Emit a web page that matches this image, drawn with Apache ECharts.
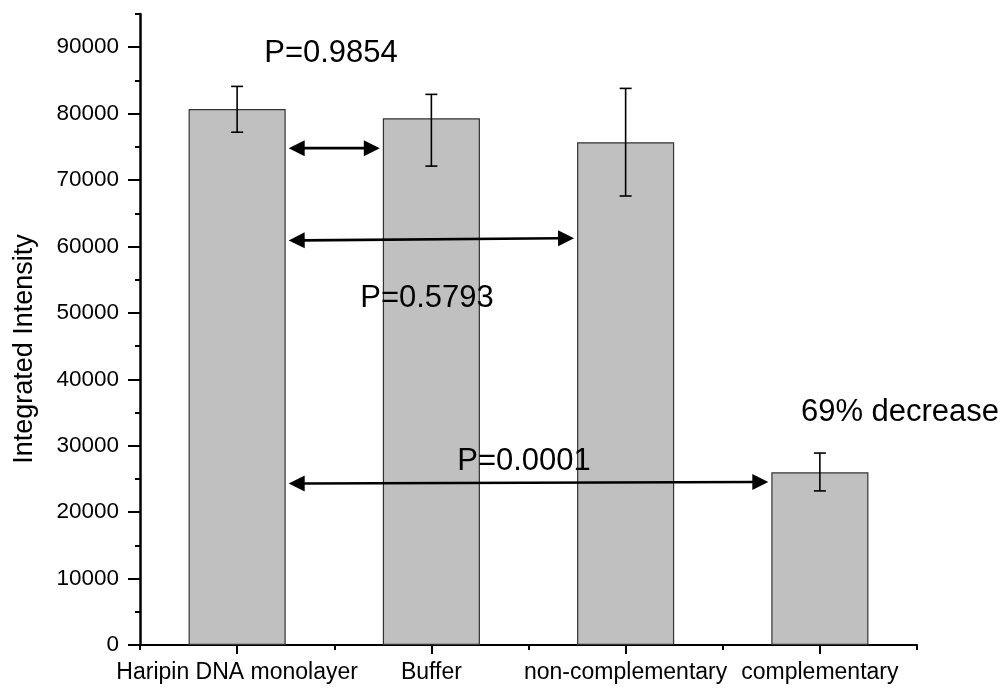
<!DOCTYPE html>
<html>
<head>
<meta charset="utf-8">
<script src="https://cdn.jsdelivr.net/npm/echarts@6/dist/echarts.min.js"></script>
<style>html,body{margin:0;padding:0;background:#fff}#c{width:1008px;height:690px}</style>
</head>
<body>
<div id="c"></div>
<script>
var categories = ['Haripin DNA monolayer', 'Buffer', 'non-complementary', 'complementary'];
var values = [80700, 79300, 75700, 26000];
var errTop = [84100, 82900, 83800, 28900];
var errBottom = [77200, 72100, 67600, 23200];
var yTicks = [0, 10000, 20000, 30000, 40000, 50000, 60000, 70000, 80000, 90000];
var yMinorTicks = [5000, 15000, 25000, 35000, 45000, 55000, 65000, 75000, 85000, 95000];
var arrowFrom = [0, 0, 0];
var arrowTo = [1, 2, 3];
var arrowStartY = [74800, 60900, 24300];
var arrowEndY = [74800, 61250, 24550];
var annotations = ['P=0.9854', 'P=0.5793', 'P=0.0001', '69% decrease'];

var FONT = '"Liberation Sans", Arial, sans-serif';
var chart = echarts.init(document.getElementById('c'), null, {renderer: 'canvas'});

var errData = values.map(function (v, i) { return [i, errTop[i], errBottom[i]]; });
var arrowData = arrowFrom.map(function (f, i) { return [f, arrowTo[i], arrowStartY[i], arrowEndY[i]]; });

var option = {
  animation: false,
  backgroundColor: '#fff',
  grid: {left: 140, right: 91, top: 14, bottom: 45, containLabel: false},
  xAxis: [{
    type: 'category',
    data: categories,
    boundaryGap: true,
    axisLine: {show: true, lineStyle: {color: '#000', width: 2}},
    axisTick: {show: true, alignWithLabel: true, length: 9, lineStyle: {color: '#000', width: 2}},
    axisLabel: {color: '#000', fontSize: 23, fontFamily: FONT, margin: 16, interval: 0},
    splitLine: {show: false}
  }, {
    type: 'category',
    data: categories,
    boundaryGap: true,
    position: 'bottom',
    axisLine: {show: false},
    axisTick: {show: true, length: 5, lineStyle: {color: '#000', width: 2}},
    axisLabel: {show: false},
    splitLine: {show: false}
  }],
  yAxis: [{
    type: 'value',
    min: 0, max: 95000, interval: 10000,
    axisLine: {show: true, lineStyle: {color: '#000', width: 2.5}},
    axisTick: {show: true, length: 12, customValues: yTicks, lineStyle: {color: '#000', width: 2}},
    axisLabel: {color: '#000', fontSize: 22.5, fontFamily: FONT, margin: 21, customValues: yTicks,
      formatter: function (v) { return String(v); }},
    splitLine: {show: false}
  }, {
    type: 'value',
    min: 0, max: 95000, interval: 5000,
    position: 'left',
    axisLine: {show: false},
    axisTick: {show: true, length: 5, customValues: yMinorTicks, lineStyle: {color: '#000', width: 2}},
    axisLabel: {show: false},
    splitLine: {show: false}
  }],
  series: [{
    type: 'bar',
    data: values,
    barWidth: '50%',
    itemStyle: {color: '#c0c0c0', borderColor: '#333', borderWidth: 1.2},
    z: 2
  }, {
    type: 'custom',
    data: errData,
    z: 5,
    renderItem: function (params, api) {
      var x = api.value(0);
      var top = api.coord([x, api.value(1)]);
      var bot = api.coord([x, api.value(2)]);
      var cw = 6;
      var st = {stroke: '#000', lineWidth: 1.6};
      return {type: 'group', children: [
        {type: 'line', shape: {x1: top[0], y1: top[1], x2: bot[0], y2: bot[1]}, style: st},
        {type: 'line', shape: {x1: top[0] - cw, y1: top[1], x2: top[0] + cw, y2: top[1]}, style: st},
        {type: 'line', shape: {x1: bot[0] - cw, y1: bot[1], x2: bot[0] + cw, y2: bot[1]}, style: st}
      ]};
    }
  }, {
    type: 'custom',
    data: arrowData,
    z: 6,
    renderItem: function (params, api) {
      var p0 = api.coord([api.value(0), api.value(2)]);
      var p1 = api.coord([api.value(1), api.value(3)]);
      var bw = api.size([1, 0])[0] * 0.5;
      var x0 = p0[0] + bw / 2 + 3, y0 = p0[1];
      var x1 = p1[0] - bw / 2 - 3, y1 = p1[1];
      var dx = x1 - x0, dy = y1 - y0, L = Math.sqrt(dx * dx + dy * dy);
      var ux = dx / L, uy = dy / L, nx = -uy, ny = ux;
      var hl = 16, hw = 8;
      function head(tx, ty, dirx, diry) {
        var bx = tx - dirx * hl, by = ty - diry * hl;
        return [[tx, ty], [bx + nx * hw, by + ny * hw], [bx - nx * hw, by - ny * hw]];
      }
      return {type: 'group', children: [
        {type: 'line', shape: {x1: x0 + ux * (hl - 2), y1: y0 + uy * (hl - 2), x2: x1 - ux * (hl - 2), y2: y1 - uy * (hl - 2)},
          style: {stroke: '#000', lineWidth: 2.6}},
        {type: 'polygon', shape: {points: head(x0, y0, -ux, -uy)}, style: {fill: '#000'}},
        {type: 'polygon', shape: {points: head(x1, y1, ux, uy)}, style: {fill: '#000'}}
      ]};
    }
  }],
  graphic: [
    {type: 'text', x: 25, y: 349, rotation: Math.PI / 2,
      style: {text: 'Integrated Intensity', font: '27px ' + FONT, fill: '#000', textAlign: 'center', textVerticalAlign: 'middle'}},
    {type: 'text', x: 331, y: 53, style: {text: annotations[0], font: '31px ' + FONT, fill: '#000', textAlign: 'center', textVerticalAlign: 'middle'}, z: 10},
    {type: 'text', x: 427, y: 298, style: {text: annotations[1], font: '31px ' + FONT, fill: '#000', textAlign: 'center', textVerticalAlign: 'middle'}, z: 10},
    {type: 'text', x: 524, y: 461, style: {text: annotations[2], font: '31px ' + FONT, fill: '#000', textAlign: 'center', textVerticalAlign: 'middle'}, z: 10},
    {type: 'text', x: 900, y: 412, style: {text: annotations[3], font: '31px ' + FONT, fill: '#000', textAlign: 'center', textVerticalAlign: 'middle'}, z: 10}
  ]
};
chart.setOption(option);
</script>
</body>
</html>
